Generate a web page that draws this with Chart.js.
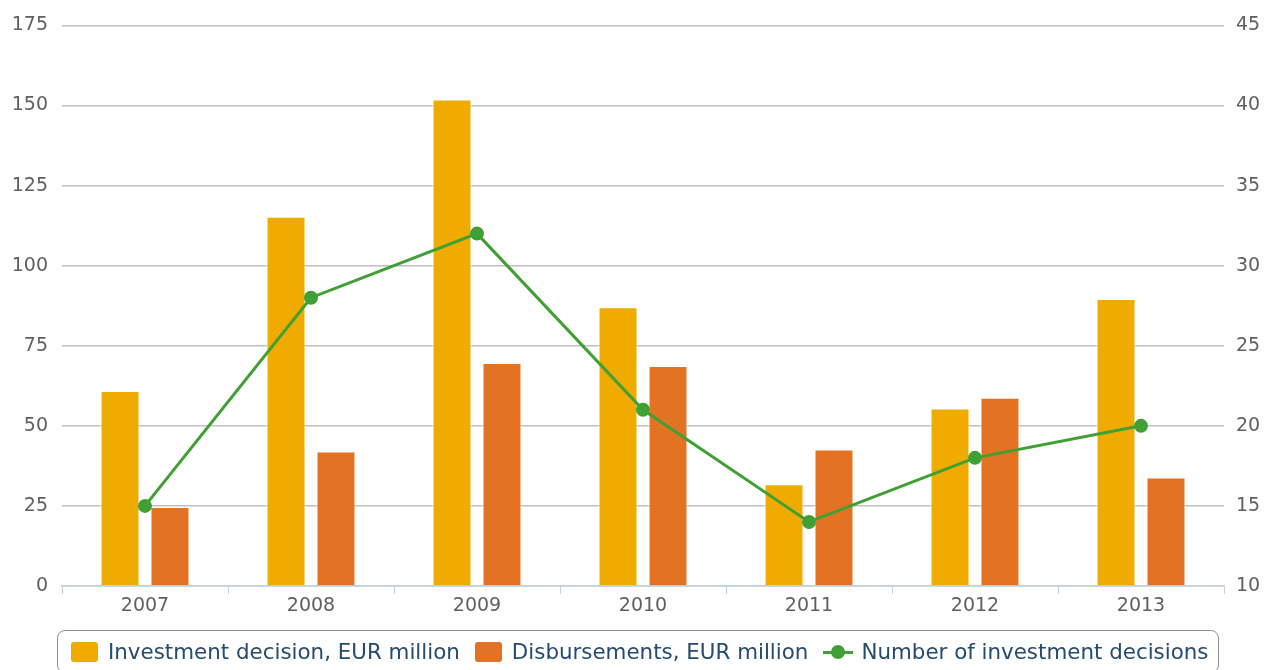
<!DOCTYPE html>
<html>
<head>
<meta charset="utf-8">
<script src="https://cdn.jsdelivr.net/npm/chart.js@4"></script>
<style>
  body { margin: 0; background: #fff; font-family: "DejaVu Sans", Verdana, sans-serif; }
  #wrap { position: relative; width: 1266px; height: 670px; overflow: hidden; }
  #legend {
    position: absolute; left: 57px; top: 630px; width: 1162px; height: 43px;
    border: 1px solid #909090; border-radius: 8px; box-sizing: border-box;
    display: flex; align-items: center; padding-left: 13px;
    font-size: 21.4px; color: #274b6d; white-space: nowrap;
  }
  .item { display: flex; align-items: center; margin-right: 15px; }
  .sw { display: inline-block; width: 27px; height: 20px; border-radius: 3px; margin-right: 10px; }
  .ln { position: relative; width: 30px; height: 20px; margin-right: 8px; }
  .ln::before { content: ""; position: absolute; left: 0; right: 0; top: 9px; height: 3px; background: var(--c); }
  .ln::after { content: ""; position: absolute; left: 8px; top: 3px; width: 14px; height: 14px; border-radius: 50%; background: var(--c); }
</style>
</head>
<body>
<div id="wrap">
  <canvas id="chart" width="1266" height="670"></canvas>
  <div id="legend"></div>
</div>
<script>
// chart data
const years = ['2007', '2008', '2009', '2010', '2011', '2012', '2013'];
const investmentDecision = [60.9, 115.3, 151.9, 87.0, 31.8, 55.4, 89.6];
const disbursements = [24.7, 42.0, 69.6, 68.7, 42.6, 58.8, 33.9];
const decisionCount = [15, 28, 32, 21, 14, 18, 20];
const leftTicks = [0, 25, 50, 75, 100, 125, 150, 175];
const rightTicks = [10, 15, 20, 25, 30, 35, 40, 45];

const YELLOW = '#f0ab00';
const ORANGE = '#e37222';
const GREEN = '#41a033';
const FONT = '"DejaVu Sans", Verdana, sans-serif';

const datasets = [
    {
        type: 'bar', label: 'Investment decision, EUR million', data: investmentDecision,
        backgroundColor: YELLOW, borderColor: '#ffffff', borderWidth: 1,
        yAxisID: 'y', order: 1, categoryPercentage: 0.602, barPercentage: 0.78
    },
    {
        type: 'bar', label: 'Disbursements, EUR million', data: disbursements,
        backgroundColor: ORANGE, borderColor: '#ffffff', borderWidth: 1,
        yAxisID: 'y', order: 1, categoryPercentage: 0.602, barPercentage: 0.78
    },
    {
        type: 'line', label: 'Number of investment decisions', data: decisionCount,
        borderColor: GREEN, backgroundColor: GREEN, borderWidth: 3,
        pointRadius: 7, pointBackgroundColor: GREEN, pointBorderWidth: 0,
        yAxisID: 'y1', order: 0, tension: 0
    }
];

new Chart(document.getElementById('chart').getContext('2d'), {
    type: 'bar',
    data: { labels: years, datasets: datasets },
    options: {
        responsive: false,
        animation: false,
        layout: { padding: { top: 24, bottom: 44, left: 0, right: 0 } },
        plugins: { legend: { display: false }, tooltip: { enabled: false } },
        scales: {
            x: {
                offset: true,
                grid: { display: true, drawOnChartArea: false, offset: true, tickLength: 8, color: '#c0d0e0', lineWidth: 1 },
                border: { display: true, color: '#c0d0e0', width: 1.5 },
                ticks: { color: '#606060', font: { family: FONT, size: 19 }, padding: 1 },
                afterFit: s => { s.height = 40; }
            },
            y: {
                position: 'left', min: 0, max: 175,
                afterBuildTicks: s => { s.ticks = leftTicks.map(v => ({ value: v })); },
                grid: { color: '#c0c0c0', lineWidth: 1.5, drawTicks: false },
                border: { display: false },
                ticks: { color: '#606060', font: { family: FONT, size: 19 }, padding: 14 },
                afterFit: s => { s.width = 62; }
            },
            y1: {
                position: 'right', min: 10, max: 45,
                afterBuildTicks: s => { s.ticks = rightTicks.map(v => ({ value: v })); },
                grid: { drawOnChartArea: false, drawTicks: false },
                border: { display: false },
                ticks: { color: '#606060', font: { family: FONT, size: 19 }, padding: 12 },
                afterFit: s => { s.width = 42; }
            }
        }
    }
});

// html legend built from the datasets
const legendEl = document.getElementById('legend');
datasets.forEach(ds => {
    const item = document.createElement('span');
    item.className = 'item';
    const mark = document.createElement('span');
    if (ds.type === 'line') {
        mark.className = 'ln';
        mark.style.setProperty('--c', ds.borderColor);
    } else {
        mark.className = 'sw';
        mark.style.background = ds.backgroundColor;
    }
    const txt = document.createElement('span');
    txt.textContent = ds.label;
    item.appendChild(mark);
    item.appendChild(txt);
    legendEl.appendChild(item);
});
</script>
</body>
</html>
